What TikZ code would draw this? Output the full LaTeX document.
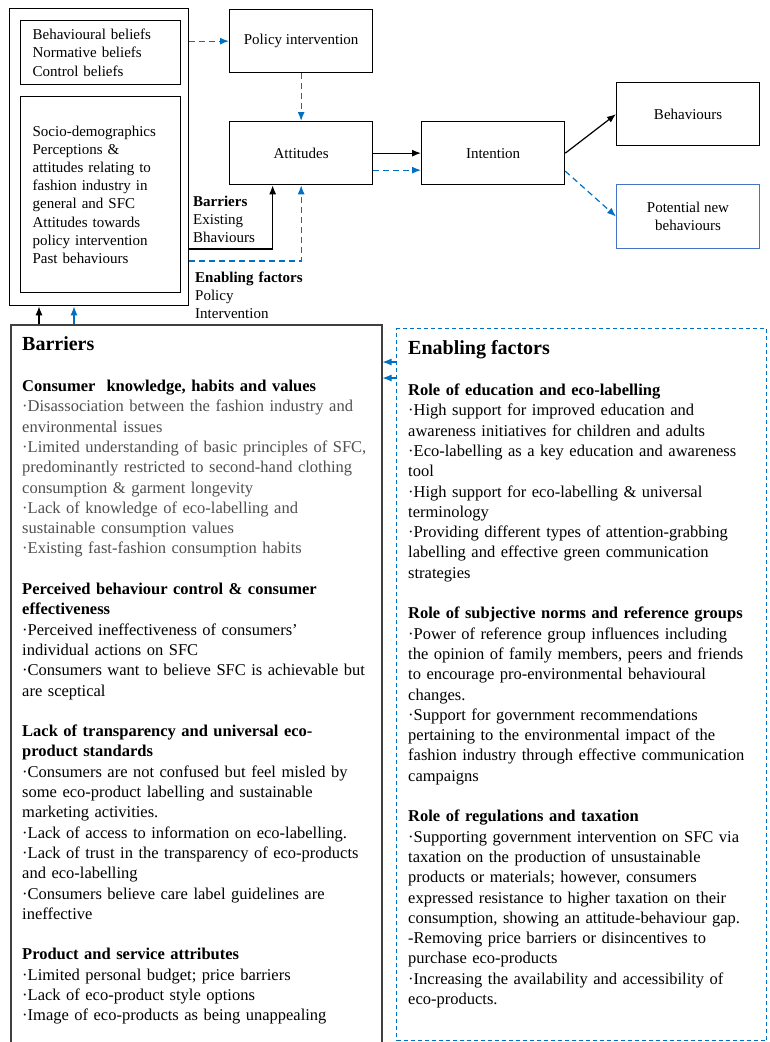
\documentclass[tikz,border=0pt]{standalone}
\usepackage{fontspec}
\setmainfont{Liberation Serif}
\usetikzlibrary{arrows.meta}
\definecolor{arrowblue}{RGB}{0,112,192}
\definecolor{boxblue}{RGB}{68,114,196}
\definecolor{bodygray}{RGB}{80,80,80}

\begin{document}
\begin{tikzpicture}[
        x=1pt, y=-1pt,
        box/.style = {shape=rectangle, draw, line width=1.3pt, anchor=north west, inner sep=0pt, font=\fontsize{15}{18.2}\selectfont},
        left box/.style = {box, align=left, inner xsep=12pt, text width=136pt, minimum width=160pt},
        small text/.style = {font=\fontsize{15}{18.2}\selectfont, text width=120pt, align=left, anchor=base west, inner sep=0pt},
        head text/.style = {font=\fontsize{20}{24}\selectfont\bfseries, anchor=base west, inner sep=0pt},
        body text/.style = {font=\fontsize{16.5}{20.3}\selectfont, text width=362pt, align=left, anchor=base west, inner sep=0pt},
        solid arrow/.style = {-{Latex[length=9pt,width=7pt]}, line width=1.2pt},
        blue arrow/.style = {solid arrow, arrowblue},
        dash arrow/.style = {blue arrow, dash pattern=on 6pt off 4pt}
    ]
    \useasboundingbox[fill=white] (0,0) rectangle (769,1042);

    % model boxes
    \node[box, minimum width=179pt, minimum height=297pt] (outer) at (9,8) {};
    \node[left box, minimum height=64pt] (beliefs) at (20,20) {Behavioural beliefs\\Normative beliefs\\Control beliefs};
    \node[left box, minimum height=196pt] (factors) at (20,96) {Socio-demographics\\Perceptions \&\\attitudes relating to\\fashion industry in\\general and SFC\\Attitudes towards\\policy intervention\\Past behaviours};
    \node[box, minimum width=143pt, minimum height=63pt] (policy) at (229,9) {Policy intervention};
    \node[box, minimum width=143pt, minimum height=63pt] (attitudes) at (229,121) {Attitudes};
    \node[box, minimum width=143pt, minimum height=63pt] (intention) at (421,121) {Intention};
    \node[box, minimum width=143pt, minimum height=63pt] (behaviours) at (616,82) {Behaviours};
    \node[box, draw=boxblue, line width=1pt, align=center, minimum width=143pt, minimum height=64pt] (potential) at (616,184) {Potential new\\behaviours};

    \node[small text] (barlabel) at (193,206) {\textbf{Barriers}\\Existing\\Bhaviours};
    \node[small text] (enlabel) at (195,282) {\textbf{Enabling factors}\\Policy\\Intervention};

    % connectors
    \draw[dash arrow] (outer.east |- policy.west) -- (policy.west);
    \draw[dash arrow] (policy) -- (attitudes);
    \draw[solid arrow] (attitudes.east) -- (intention.west);
    \draw[dash arrow] ([yshift=-17pt]attitudes.east) -- ([yshift=-17pt]intention.west);
    \draw[solid arrow] (intention.east) -- (behaviours.west);
    \draw[dash arrow] ([yshift=-18pt]intention.east) -- (potential.west);
    \draw[solid arrow] (outer.east |- 0,249) -| ([xshift=-28.5pt]attitudes.south);
    \draw[dash arrow] (outer.east |- 0,261) -| (attitudes.south);

    % lower panels
    \node[box, draw=black!75, line width=1.5pt, minimum width=371pt, minimum height=730pt] (barbox) at (10,324) {};
    \node[box, draw=arrowblue, line width=1pt, dash pattern=on 4pt off 3pt, minimum width=370pt, minimum height=712pt] (enbox) at (396,328) {};

    \draw[solid arrow] (barbox.north -| 39,0) -- (outer.south -| 39,0);
    \draw[blue arrow] (barbox.north -| 74,0) -- (outer.south -| 74,0);
    \draw[blue arrow] (enbox.west |- 0,362) -- (barbox.east |- 0,362);
    \draw[blue arrow] (enbox.west |- 0,378) -- (barbox.east |- 0,378);

    \node[head text] (barhead) at (22,350) {Barriers};
    \node[body text] (bartext) at (22,391.5) {\textbf{Consumer\ \ knowledge, habits and values}\\
        {\color{bodygray}·Disassociation between the fashion industry and\\
        environmental issues\\
        ·Limited understanding of basic principles of SFC,\\
        predominantly restricted to second-hand clothing\\
        consumption \& garment longevity\\
        ·Lack of knowledge of eco-labelling and\\
        sustainable consumption values\\
        ·Existing fast-fashion consumption habits}\\[20.3pt]
        \textbf{Perceived behaviour control \& consumer}\\
        \textbf{effectiveness}\\
        ·Perceived ineffectiveness of consumers’\\
        individual actions on SFC\\
        ·Consumers want to believe SFC is achievable but\\
        are sceptical\\[20.3pt]
        \textbf{Lack of transparency and universal eco-}\\
        \textbf{product standards}\\
        ·Consumers are not confused but feel misled by\\
        some eco-product labelling and sustainable\\
        marketing activities.\\
        ·Lack of access to information on eco-labelling.\\
        ·Lack of trust in the transparency of eco-products\\
        and eco-labelling\\
        ·Consumers believe care label guidelines are\\
        ineffective\\[20.3pt]
        \textbf{Product and service attributes}\\
        ·Limited personal budget; price barriers\\
        ·Lack of eco-product style options\\
        ·Image of eco-products as being unappealing};

    \node[head text] (enhead) at (408,354) {Enabling factors};
    \node[body text] (entext) at (408,395.5) {\textbf{Role of education and eco-labelling}\\
        ·High support for improved education and\\
        awareness initiatives for children and adults\\
        ·Eco-labelling as a key education and awareness\\
        tool\\
        ·High support for eco-labelling \& universal\\
        terminology\\
        ·Providing different types of attention-grabbing\\
        labelling and effective green communication\\
        strategies\\[20.3pt]
        \textbf{Role of subjective norms and reference groups}\\
        ·Power of reference group influences including\\
        the opinion of family members, peers and friends\\
        to encourage pro-environmental behavioural\\
        changes.\\
        ·Support for government recommendations\\
        pertaining to the environmental impact of the\\
        fashion industry through effective communication\\
        campaigns\\[20.3pt]
        \textbf{Role of regulations and taxation}\\
        ·Supporting government intervention on SFC via\\
        taxation on the production of unsustainable\\
        products or materials; however, consumers\\
        expressed resistance to higher taxation on their\\
        consumption, showing an attitude-behaviour gap.\\
        -Removing price barriers or disincentives to\\
        purchase eco-products\\
        ·Increasing the availability and accessibility of\\
        eco-products.};
\end{tikzpicture}
\end{document}
